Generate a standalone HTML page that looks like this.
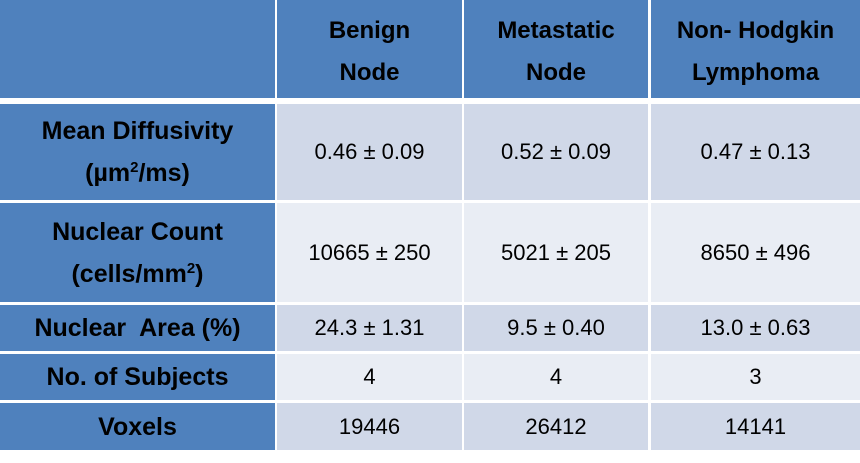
<!DOCTYPE html><html><head><style>
body{margin:0;width:860px;height:463px;background:#fff;position:relative;font-family:"Liberation Sans",sans-serif;overflow:hidden}
.c{position:absolute;display:flex;align-items:center;justify-content:center;text-align:center;color:#000}
.c>div{width:100%}
.h{background:#4f81bd;font-weight:bold;font-size:24px;line-height:42px}
.h>div{padding-top:6px}
.l{background:#4f81bd;font-weight:bold;font-size:25px;line-height:42px}
.a{background:#d0d8e8;font-size:22px}
.b{background:#e9edf4;font-size:22px}
sup{font-size:15px;line-height:0;vertical-align:9px}
</style></head><body>
<div class="c h" style="left:0;top:0;width:275px;height:98px"></div>
<div class="c h" style="left:277px;top:0;width:185px;height:98px"><div>Benign<br>Node</div></div>
<div class="c h" style="left:464px;top:0;width:184px;height:98px"><div>Metastatic<br>Node</div></div>
<div class="c h" style="left:651px;top:0;width:209px;height:98px"><div>Non- Hodgkin<br>Lymphoma</div></div>

<div class="c l" style="left:0;top:104px;width:275px;height:96px"><div>Mean Diffusivity<br>(µm<sup>2</sup>/ms)</div></div>
<div class="c a" style="left:277px;top:104px;width:185px;height:96px">0.46 ± 0.09</div>
<div class="c a" style="left:464px;top:104px;width:184px;height:96px">0.52 ± 0.09</div>
<div class="c a" style="left:651px;top:104px;width:209px;height:96px">0.47 ± 0.13</div>

<div class="c l" style="left:0;top:203px;width:275px;height:99px"><div>Nuclear Count<br>(cells/mm<sup>2</sup>)</div></div>
<div class="c b" style="left:277px;top:203px;width:185px;height:99px">10665 ± 250</div>
<div class="c b" style="left:464px;top:203px;width:184px;height:99px">5021 ± 205</div>
<div class="c b" style="left:651px;top:203px;width:209px;height:99px">8650 ± 496</div>

<div class="c l" style="left:0;top:305px;width:275px;height:46px">Nuclear&nbsp; Area (%)</div>
<div class="c a" style="left:277px;top:305px;width:185px;height:46px">24.3 ± 1.31</div>
<div class="c a" style="left:464px;top:305px;width:184px;height:46px">9.5 ± 0.40</div>
<div class="c a" style="left:651px;top:305px;width:209px;height:46px">13.0 ± 0.63</div>

<div class="c l" style="left:0;top:354px;width:275px;height:46px">No. of Subjects</div>
<div class="c b" style="left:277px;top:354px;width:185px;height:46px">4</div>
<div class="c b" style="left:464px;top:354px;width:184px;height:46px">4</div>
<div class="c b" style="left:651px;top:354px;width:209px;height:46px">3</div>

<div class="c l" style="left:0;top:403px;width:275px;height:47px">Voxels</div>
<div class="c a" style="left:277px;top:403px;width:185px;height:47px">19446</div>
<div class="c a" style="left:464px;top:403px;width:184px;height:47px">26412</div>
<div class="c a" style="left:651px;top:403px;width:209px;height:47px">14141</div>
</body></html>
